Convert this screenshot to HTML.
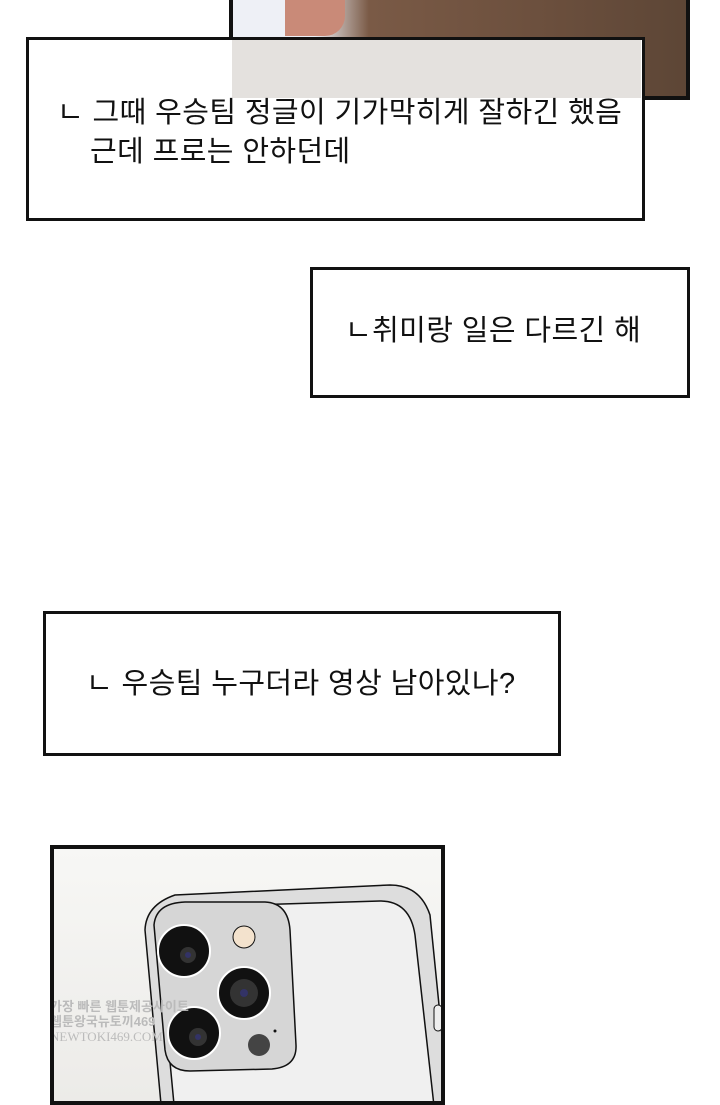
<!DOCTYPE html>
<html><head><meta charset="utf-8"><style>
body{margin:0;width:720px;height:1098px;background:#fff;position:relative;overflow:hidden;font-family:"Liberation Sans","Noto Sans CJK KR",sans-serif;}
.a{position:absolute;box-sizing:border-box;}
.box{border:3px solid #111;background:#fff;}
.t{position:absolute;font-size:29px;letter-spacing:0.4px;color:#111;white-space:nowrap;line-height:36px;}
</style></head><body>
<div class="a" style="left:229px;top:-4px;width:461px;height:104px;border:4px solid #111;background:linear-gradient(90deg,#eef0f6 0,#eef0f6 18%,#7a5a46 30%,#6b4f3d 70%,#5d4636 100%);"></div>
<div class="a" style="left:285px;top:0;width:60px;height:36px;background:#c98a78;border-radius:0 0 20px 0;"></div>
<div class="a box" style="left:26px;top:37px;width:619px;height:184px;"></div>
<div class="a" style="left:232px;top:40px;width:409px;height:58px;background:rgba(225,222,218,0.9);"></div>
<div class="t" style="left:57px;top:95px;">ㄴ 그때 우승팀 정글이 기가막히게 잘하긴 했음</div>
<div class="t" style="left:90px;top:134px;">근데 프로는 안하던데</div>
<div class="a box" style="left:310px;top:267px;width:380px;height:131px;"></div>
<div class="t" style="left:345px;top:313px;">ㄴ취미랑 일은 다르긴 해</div>
<div class="a box" style="left:43px;top:611px;width:518px;height:145px;"></div>
<div class="t" style="left:86px;top:666px;">ㄴ 우승팀 누구더라 영상 남아있나?</div>
<div class="a" style="left:50px;top:845px;width:395px;height:260px;border:4px solid #111;background:linear-gradient(180deg,#f7f7f5,#ecebe8);overflow:hidden;">
<svg width="395" height="260" style="position:absolute;left:-4px;top:-4px">
<path d="M95 85 Q96 60 125 50 L340 40 Q370 40 380 70 L400 270 L112 270 Z" fill="#ddd" stroke="#111" stroke-width="1.5"/>
<path d="M108 90 Q110 66 135 62 L330 56 Q360 56 365 90 L385 270 L125 270 Z" fill="#f0f0f0" stroke="#111" stroke-width="1.5"/>
<path d="M104 80 Q106 58 135 57 L215 57 Q238 58 240 85 L246 200 Q247 222 222 224 L140 226 Q118 226 115 205 Z" fill="#d6d6d6" stroke="#111" stroke-width="1.5"/>
<circle cx="134" cy="106" r="26" fill="#111" stroke="#fff" stroke-width="2"/><circle cx="138" cy="110" r="8" fill="#333"/><circle cx="138" cy="110" r="3" fill="#336"/>
<circle cx="194" cy="148" r="26" fill="#111" stroke="#fff" stroke-width="2"/><circle cx="194" cy="148" r="14" fill="#333"/><circle cx="194" cy="148" r="4" fill="#336"/>
<circle cx="144" cy="188" r="26" fill="#111" stroke="#fff" stroke-width="2"/><circle cx="148" cy="192" r="9" fill="#333"/><circle cx="148" cy="192" r="3" fill="#336"/>
<circle cx="194" cy="92" r="11" fill="#f3e2cd" stroke="#111"/>
<circle cx="209" cy="200" r="11" fill="#444"/>
<circle cx="225" cy="186" r="1.5" fill="#111"/>
<rect x="384" y="160" width="8" height="26" rx="4" fill="#eee" stroke="#111"/>
</svg>
<div style="position:absolute;left:-4px;top:150px;font-size:13px;font-weight:bold;color:#bbb;line-height:15px;">가장 빠른 웹툰제공사이트<br>웹툰왕국뉴토끼469<br><span style="font-family:'Liberation Serif',serif;font-weight:normal">NEWTOKI469.COM</span></div>
</div>
</body></html>
